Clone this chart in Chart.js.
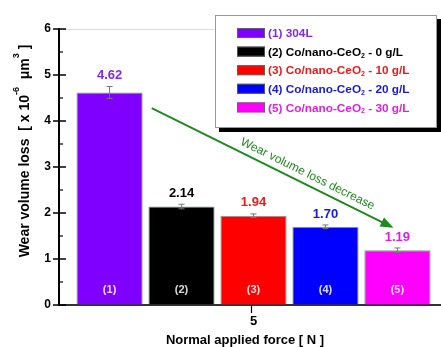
<!DOCTYPE html>
<html>
<head>
<meta charset="utf-8">
<script src="https://cdn.jsdelivr.net/npm/chart.js@4/dist/chart.umd.min.js"></script>
<style>
  html, body { margin: 0; padding: 0; background: #fff; overflow: hidden; }
  #wrap { width: 441px; height: 347px; overflow: hidden; }
  canvas { display: block; }
</style>
</head>
<body>
<div id="wrap"><canvas id="c" width="448" height="347"></canvas></div>
<script>
// Wear volume loss of each sample at 5 N normal load
const forceLabels = ['5'];
const sampleNames = ['(1) 304L', '(2) Co/nano-CeO', '(3) Co/nano-CeO', '(4) Co/nano-CeO', '(5) Co/nano-CeO'];
const nameSuffix = ['', ' - 0 g/L', ' - 10 g/L', ' - 20 g/L', ' - 30 g/L'];
const barTags = ['(1)', '(2)', '(3)', '(4)', '(5)'];
const wearLoss = [4.62, 2.14, 1.94, 1.70, 1.19];
const wearError = [0.13, 0.05, 0.04, 0.04, 0.05];
const yTicks = [0, 1, 2, 3, 4, 5, 6];

const barColors = ['#7F00FF', '#000000', '#FF0000', '#0000FF', '#FF00FF'];
const textColors = ['#8028F0', '#000000', '#F01818', '#1818E0', '#E020E0'];
const trendColor = '#1E8A1E';
const trendText = 'Wear volume loss decrease';
const xTitle = 'Normal applied force [ N ]';
// trend arrow runs from just past bar 1 down to just above bar 5 (values in axis units)
const trendFrom = { bar: 1, value: 4.28, dx: -0.45 };
const trendTo = { bar: 4, value: 1.68, dx: -0.06 };

const FONT = '"Liberation Sans", Arial, sans-serif';

const datasets = wearLoss.map((v, i) => ({
  label: sampleNames[i] + nameSuffix[i],
  data: [v],
  backgroundColor: barColors[i],
  borderColor: 'rgba(90,110,90,0.7)',
  borderWidth: 1,
  categoryPercentage: 0.925,
  barPercentage: 0.92
}));

function drawSubText(ctx, x, y, parts) {
  // parts: [text, mode, size] where mode is 'n' normal, 'sup', 'sub'
  let cx = x;
  for (const [t, mode, size] of parts) {
    ctx.save();
    ctx.font = 'bold ' + size + 'px ' + FONT;
    let dy = 0;
    if (mode === 'sup') dy = -size * 0.9;
    if (mode === 'sub') dy = size * 0.45;
    ctx.fillText(t, cx, y + dy);
    cx += ctx.measureText(t).width;
    ctx.restore();
  }
  return cx - x;
}

function measureParts(ctx, parts) {
  let w = 0;
  for (const [t, mode, size] of parts) {
    ctx.font = 'bold ' + size + 'px ' + FONT;
    w += ctx.measureText(t).width;
  }
  return w;
}

const decorations = {
  id: 'decorations',
  afterDatasetsDraw(chart) {
    const ctx = chart.ctx;
    const y = chart.scales.y;
    const x = chart.scales.x;
    const ca = chart.chartArea;

    // y axis ticks: major cross the axis, minor sit inside
    ctx.save();
    ctx.strokeStyle = '#000';
    ctx.lineWidth = 1.5;
    for (const t of yTicks) {
      const py = y.getPixelForValue(t);
      ctx.beginPath(); ctx.moveTo(ca.left - 6, py); ctx.lineTo(ca.left + 7, py); ctx.stroke();
    }
    ctx.lineWidth = 1.2;
    for (let t = 0.5; t < 6; t += 1) {
      const py = y.getPixelForValue(t);
      ctx.beginPath(); ctx.moveTo(ca.left, py); ctx.lineTo(ca.left + 4, py); ctx.stroke();
    }
    // x tick
    const px = x.getPixelForValue(0);
    ctx.beginPath(); ctx.moveTo(px - 2, ca.bottom); ctx.lineTo(px - 2, ca.bottom + 8); ctx.stroke();
    ctx.restore();

    // error bars, value labels, bar tags
    chart.data.datasets.forEach((ds, i) => {
      const bar = chart.getDatasetMeta(i).data[0];
      const v = wearLoss[i];
      const top = y.getPixelForValue(v + wearError[i]);
      const bot = y.getPixelForValue(v - wearError[i]);
      ctx.save();
      ctx.strokeStyle = '#777';
      ctx.lineWidth = 1;
      ctx.beginPath();
      ctx.moveTo(bar.x, top); ctx.lineTo(bar.x, bot);
      ctx.moveTo(bar.x - 3, top); ctx.lineTo(bar.x + 3, top);
      ctx.moveTo(bar.x - 3, bot); ctx.lineTo(bar.x + 3, bot);
      ctx.stroke();
      ctx.fillStyle = textColors[i];
      ctx.font = 'bold 13px ' + FONT;
      ctx.textAlign = 'center';
      ctx.textBaseline = 'middle';
      ctx.fillText(v.toFixed(2), bar.x, top - 11);
      ctx.fillStyle = 'rgba(255,255,255,0.85)';
      ctx.font = 'bold 11px ' + FONT;
      ctx.fillText(barTags[i], bar.x, y.getPixelForValue(0) - 15);
      ctx.restore();
    });

    // axis titles
    ctx.save();
    ctx.fillStyle = '#000';
    ctx.font = 'bold 13px ' + FONT;
    ctx.textAlign = 'center';
    ctx.textBaseline = 'middle';
    ctx.fillText(xTitle, 245, 340);
    ctx.restore();

    ctx.save();
    ctx.translate(21, 151);
    ctx.rotate(-Math.PI / 2);
    ctx.fillStyle = '#000';
    ctx.textBaseline = 'middle';
    const tParts = [['Wear volume loss  [ x 10', 'n', 14], ['-6', 'sup', 9], ['  \u03BCm', 'n', 14], ['3', 'sup', 9], [' ]', 'n', 14]];
    const tw = measureParts(ctx, tParts);
    drawSubText(ctx, -tw / 2, 4, tParts);
    ctx.restore();

    // trend arrow
    const b1 = chart.getDatasetMeta(trendFrom.bar).data[0];
    const b2 = chart.getDatasetMeta(trendTo.bar).data[0];
    const x1 = b1.x + trendFrom.dx * b1.width, y1 = y.getPixelForValue(trendFrom.value);
    const x2 = b2.x + trendTo.dx * b2.width, y2 = y.getPixelForValue(trendTo.value);
    const ang = Math.atan2(y2 - y1, x2 - x1);
    ctx.save();
    ctx.strokeStyle = trendColor;
    ctx.fillStyle = trendColor;
    ctx.lineWidth = 2;
    ctx.beginPath();
    ctx.moveTo(x1, y1);
    ctx.lineTo(x2 - 10 * Math.cos(ang), y2 - 10 * Math.sin(ang));
    ctx.stroke();
    ctx.beginPath();
    ctx.moveTo(x2, y2);
    ctx.lineTo(x2 - 13 * Math.cos(ang) + 5 * Math.sin(ang), y2 - 13 * Math.sin(ang) - 5 * Math.cos(ang));
    ctx.lineTo(x2 - 13 * Math.cos(ang) - 5 * Math.sin(ang), y2 - 13 * Math.sin(ang) + 5 * Math.cos(ang));
    ctx.closePath();
    ctx.fill();
    const mx = (x1 + x2) / 2 + 34 * Math.cos(ang), my = (y1 + y2) / 2 + 34 * Math.sin(ang);
    ctx.translate(mx + 10 * Math.sin(ang), my - 10 * Math.cos(ang));
    ctx.rotate(ang);
    ctx.font = '12px ' + FONT;
    ctx.textAlign = 'center';
    ctx.textBaseline = 'middle';
    ctx.fillText(trendText, 0, 0);
    ctx.restore();

    // legend box with drop shadow
    const L = 215, T = 15, W = 222, H = 113;
    ctx.save();
    ctx.fillStyle = '#000';
    ctx.fillRect(L + 4, T + 4, W, H);
    ctx.fillStyle = '#fff';
    ctx.fillRect(L, T, W, H);
    ctx.strokeStyle = '#999';
    ctx.lineWidth = 1;
    ctx.strokeRect(L + 0.5, T + 0.5, W - 1, H - 1);
    ctx.textBaseline = 'middle';
    chart.data.datasets.forEach((ds, i) => {
      const ry = T + 18 + i * 18.6;
      ctx.fillStyle = barColors[i];
      ctx.fillRect(L + 22, ry - 5, 28, 10);
      ctx.strokeStyle = 'rgba(90,110,90,0.8)';
      ctx.strokeRect(L + 22.5, ry - 4.5, 27, 9);
      ctx.fillStyle = textColors[i];
      const parts = i === 0
        ? [[sampleNames[i], 'n', 11.8]]
        : [[sampleNames[i], 'n', 11.8], ['2', 'sub', 7], [nameSuffix[i], 'n', 11.8]];
      drawSubText(ctx, L + 53, ry + 1, parts);
    });
    ctx.restore();
  }
};

new Chart(document.getElementById('c'), {
  type: 'bar',
  data: { labels: forceLabels, datasets },
  options: {
    responsive: false,
    animation: false,
    devicePixelRatio: 1,
    layout: { padding: { top: 29, right: 0, left: 0, bottom: 0 } },
    plugins: { legend: { display: false }, tooltip: { enabled: false } },
    scales: {
      x: {
        grid: { display: false, drawTicks: false },
        border: { color: '#333', width: 2 },
        ticks: { color: '#000', font: { family: FONT, size: 13, weight: 'bold' }, padding: 9 },
        afterFit(s) { s.height = 42; }
      },
      y: {
        min: 0, max: 6,
        grid: {
          drawTicks: false,
          color: c => (c.tick && c.tick.value === 6 ? '#dcdcdc' : 'rgba(0,0,0,0)')
        },
        border: { color: '#000', width: 2 },
        ticks: {
          stepSize: 1,
          color: '#000',
          padding: 8,
          font: { family: FONT, size: 12, weight: 'bold' }
        },
        afterFit(s) { s.width = 59; }
      }
    }
  },
  plugins: [decorations]
});
</script>
</body>
</html>
